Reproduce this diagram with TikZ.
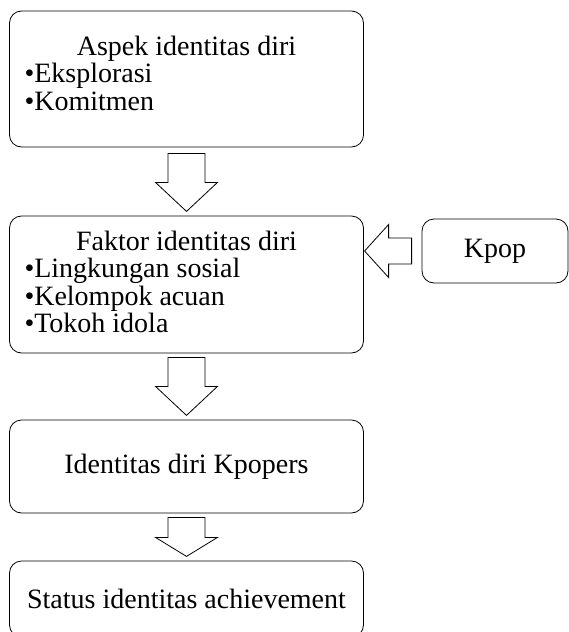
\documentclass[tikz,border=0pt]{standalone}
\usepackage{fontspec}
\setmainfont{Liberation Serif}

\tikzset{
  box/.style={draw, rounded corners=12pt, line width=.8pt, minimum width=354pt,
    inner sep=0pt, font=\fontsize{28}{27.5}\selectfont},
  blockarrow/.style={draw, line width=.8pt, fill=white, line join=miter}
}
% extra depth below the last line, lifts a text block inside its box
\newcommand{\liftby}[1]{\rule[-#1]{0pt}{#1}}

\begin{document}
\begin{tikzpicture}[x=1pt,y=-1pt]

  \useasboundingbox (0,0) rectangle (569,632);
  \clip (0,0) rectangle (569,632);

  \begin{scope}[every node/.style={box}]
    \node[minimum height=136pt, align=left] (aspek) at (186.5,79)
      {\makebox[324pt]{Aspek identitas diri}\\•Eksplorasi\\•Komitmen\liftby{12pt}};
    \node[minimum height=137pt, align=left] (faktor) at (186.5,284.5)
      {\makebox[324pt]{Faktor identitas diri}\\•Lingkungan sosial\\•Kelompok acuan\\•Tokoh idola\liftby{5pt}};
    \node[minimum height=93pt] (kpopers) at (186.5,466.5) {Identitas diri Kpopers};
    \node[minimum height=76pt] (status) at (186.5,599) {Status identitas achievement};
    \node[minimum width=146pt, minimum height=64pt] (kpop) at (495,251) {Kpop};
  \end{scope}

  % block arrows
  \draw[blockarrow] ([shift={(-18.5,6)}]aspek.south) -- ++(37,0) -- ++(0,29) -- ++(12.5,0)
    -- ++(-31,29) -- ++(-31,-29) -- ++(12.5,0) -- cycle;
  \draw[blockarrow] ([shift={(-18.5,4)}]faktor.south) -- ++(37,0) -- ++(0,29) -- ++(12.5,0)
    -- ++(-31,29) -- ++(-31,-29) -- ++(12.5,0) -- cycle;
  \draw[blockarrow] ([shift={(-18.5,4)}]kpopers.south) -- ++(37,0) -- ++(0,20) -- ++(12.5,0)
    -- ++(-31,19) -- ++(-31,-19) -- ++(12.5,0) -- cycle;
  \draw[blockarrow] ([shift={(-10,-13)}]kpop.west) -- ++(0,26) -- ++(-23,0) -- ++(0,13.5)
    -- ++(-24,-26.5) -- ++(24,-26.5) -- ++(0,13.5) -- cycle;

\end{tikzpicture}
\end{document}
